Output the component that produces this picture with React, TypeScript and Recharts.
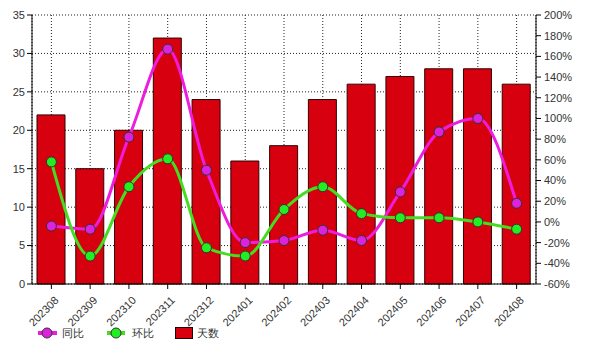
import React from 'react';
import { ComposedChart, Bar, Line, XAxis, YAxis, CartesianGrid, Legend } from 'recharts';

const categories = ['202308', '202309', '202310', '202311', '202312', '202401', '202402', '202403', '202404', '202405', '202406', '202407', '202408'];
const days = [22, 15, 20, 32, 24, 16, 18, 24, 26, 27, 28, 28, 26];
const yoy = [-4, -7, 82, 167, 50, -20, -18, -8, -18, 29, 87, 100, 18];
const mom = [58, -33, 34, 61, -25, -33, 12, 34, 8, 4, 4, 0, -7];
const leftTicks = [0, 5, 10, 15, 20, 25, 30, 35];
const rightTicks = [-60, -40, -20, 0, 20, 40, 60, 80, 100, 120, 140, 160, 180, 200];

const data = categories.map((c, i) => ({ name: c, days: days[i], yoy: yoy[i], mom: mom[i] }));

const FONT = '"Liberation Sans", Arial, sans-serif';
const BAR_FILL = '#d7000f';
const MAGENTA = '#ee1ddd';
const GREEN = '#44dd22';

const XTick = (props: any) => {
  const { x, y, payload } = props;
  const ax = x + 8;
  const ay = y + 10;
  return (
    <text x={ax} y={ay} transform={`rotate(-45 ${ax} ${ay})`} textAnchor="end" fontSize={11} fill="#333" fontFamily={FONT}>
      {payload.value}
    </text>
  );
};

const LegendContent = () => (
  <div style={{ position: 'relative', width: 610, height: 27, fontFamily: FONT, fontSize: 11, color: '#333' }}>
    <svg width={610} height={27} style={{ position: 'absolute', left: 0, top: 0 }}>
      <line x1={38} x2={57} y1={9} y2={9} stroke={MAGENTA} strokeWidth={4} />
      <circle cx={47} cy={9} r={5} fill="#dd22dd" stroke="#333" strokeWidth={1} />
      <text x={62} y={13} fontSize={11} fill="#333" fontFamily={FONT}>同比</text>
      <line x1={107} x2={125} y1={9} y2={9} stroke={GREEN} strokeWidth={4} />
      <circle cx={116} cy={9} r={5} fill="#22ee22" stroke="#333" strokeWidth={1} />
      <text x={132} y={13} fontSize={11} fill="#333" fontFamily={FONT}>环比</text>
      <rect x={175.5} y={3.5} width={17} height={11} fill={BAR_FILL} stroke="#200" strokeWidth={1} />
      <text x={197} y={13} fontSize={11} fill="#333" fontFamily={FONT}>天数</text>
    </svg>
  </div>
);

export default function App() {
  return (
    <div style={{ position: 'absolute', left: 0, top: 0, width: 610, height: 351, background: '#fff' }}>
      <ComposedChart width={610} height={351} data={data} margin={{ top: 15, right: 0, left: 0, bottom: 0 }}>
        <CartesianGrid yAxisId="left" stroke="#222" strokeDasharray="1 2" />
        <XAxis
          dataKey="name"
          height={40}
          tick={<XTick />}
          tickLine={{ stroke: '#000' }}
          axisLine={{ stroke: '#000' }}
          tickSize={5}
          interval={0}
        />
        <YAxis
          yAxisId="left"
          width={32}
          domain={[0, 35]}
          ticks={leftTicks}
          interval={0}
          tick={{ fontSize: 11, fill: '#333', fontFamily: FONT }}
          tickLine={{ stroke: '#000' }}
          axisLine={{ stroke: '#000' }}
          tickSize={5}
          tickMargin={2}
        />
        <YAxis
          yAxisId="right"
          orientation="right"
          width={74}
          domain={[-60, 200]}
          ticks={rightTicks}
          interval={0}
          tickFormatter={(v: number) => `${v}%`}
          tick={{ fontSize: 11, fill: '#333', fontFamily: FONT }}
          tickLine={{ stroke: '#000' }}
          axisLine={{ stroke: '#000' }}
          tickSize={5}
          tickMargin={3}
        />
        <Bar yAxisId="left" dataKey="days" name="天数" fill={BAR_FILL} stroke="#300" strokeWidth={1} barSize={28} isAnimationActive={false} />
        <Line
          yAxisId="right"
          type="monotone"
          dataKey="yoy"
          name="同比"
          stroke={MAGENTA}
          strokeWidth={3}
          dot={{ r: 5, fill: '#dd22dd', stroke: '#333', strokeWidth: 1 }}
          isAnimationActive={false}
        />
        <Line
          yAxisId="right"
          type="monotone"
          dataKey="mom"
          name="环比"
          stroke={GREEN}
          strokeWidth={3}
          dot={{ r: 5, fill: '#22ee22', stroke: '#333', strokeWidth: 1 }}
          isAnimationActive={false}
        />
        <Legend verticalAlign="bottom" content={<LegendContent />} wrapperStyle={{ left: 0, bottom: 0, width: 610, height: 27 }} />
      </ComposedChart>
    </div>
  );
}
